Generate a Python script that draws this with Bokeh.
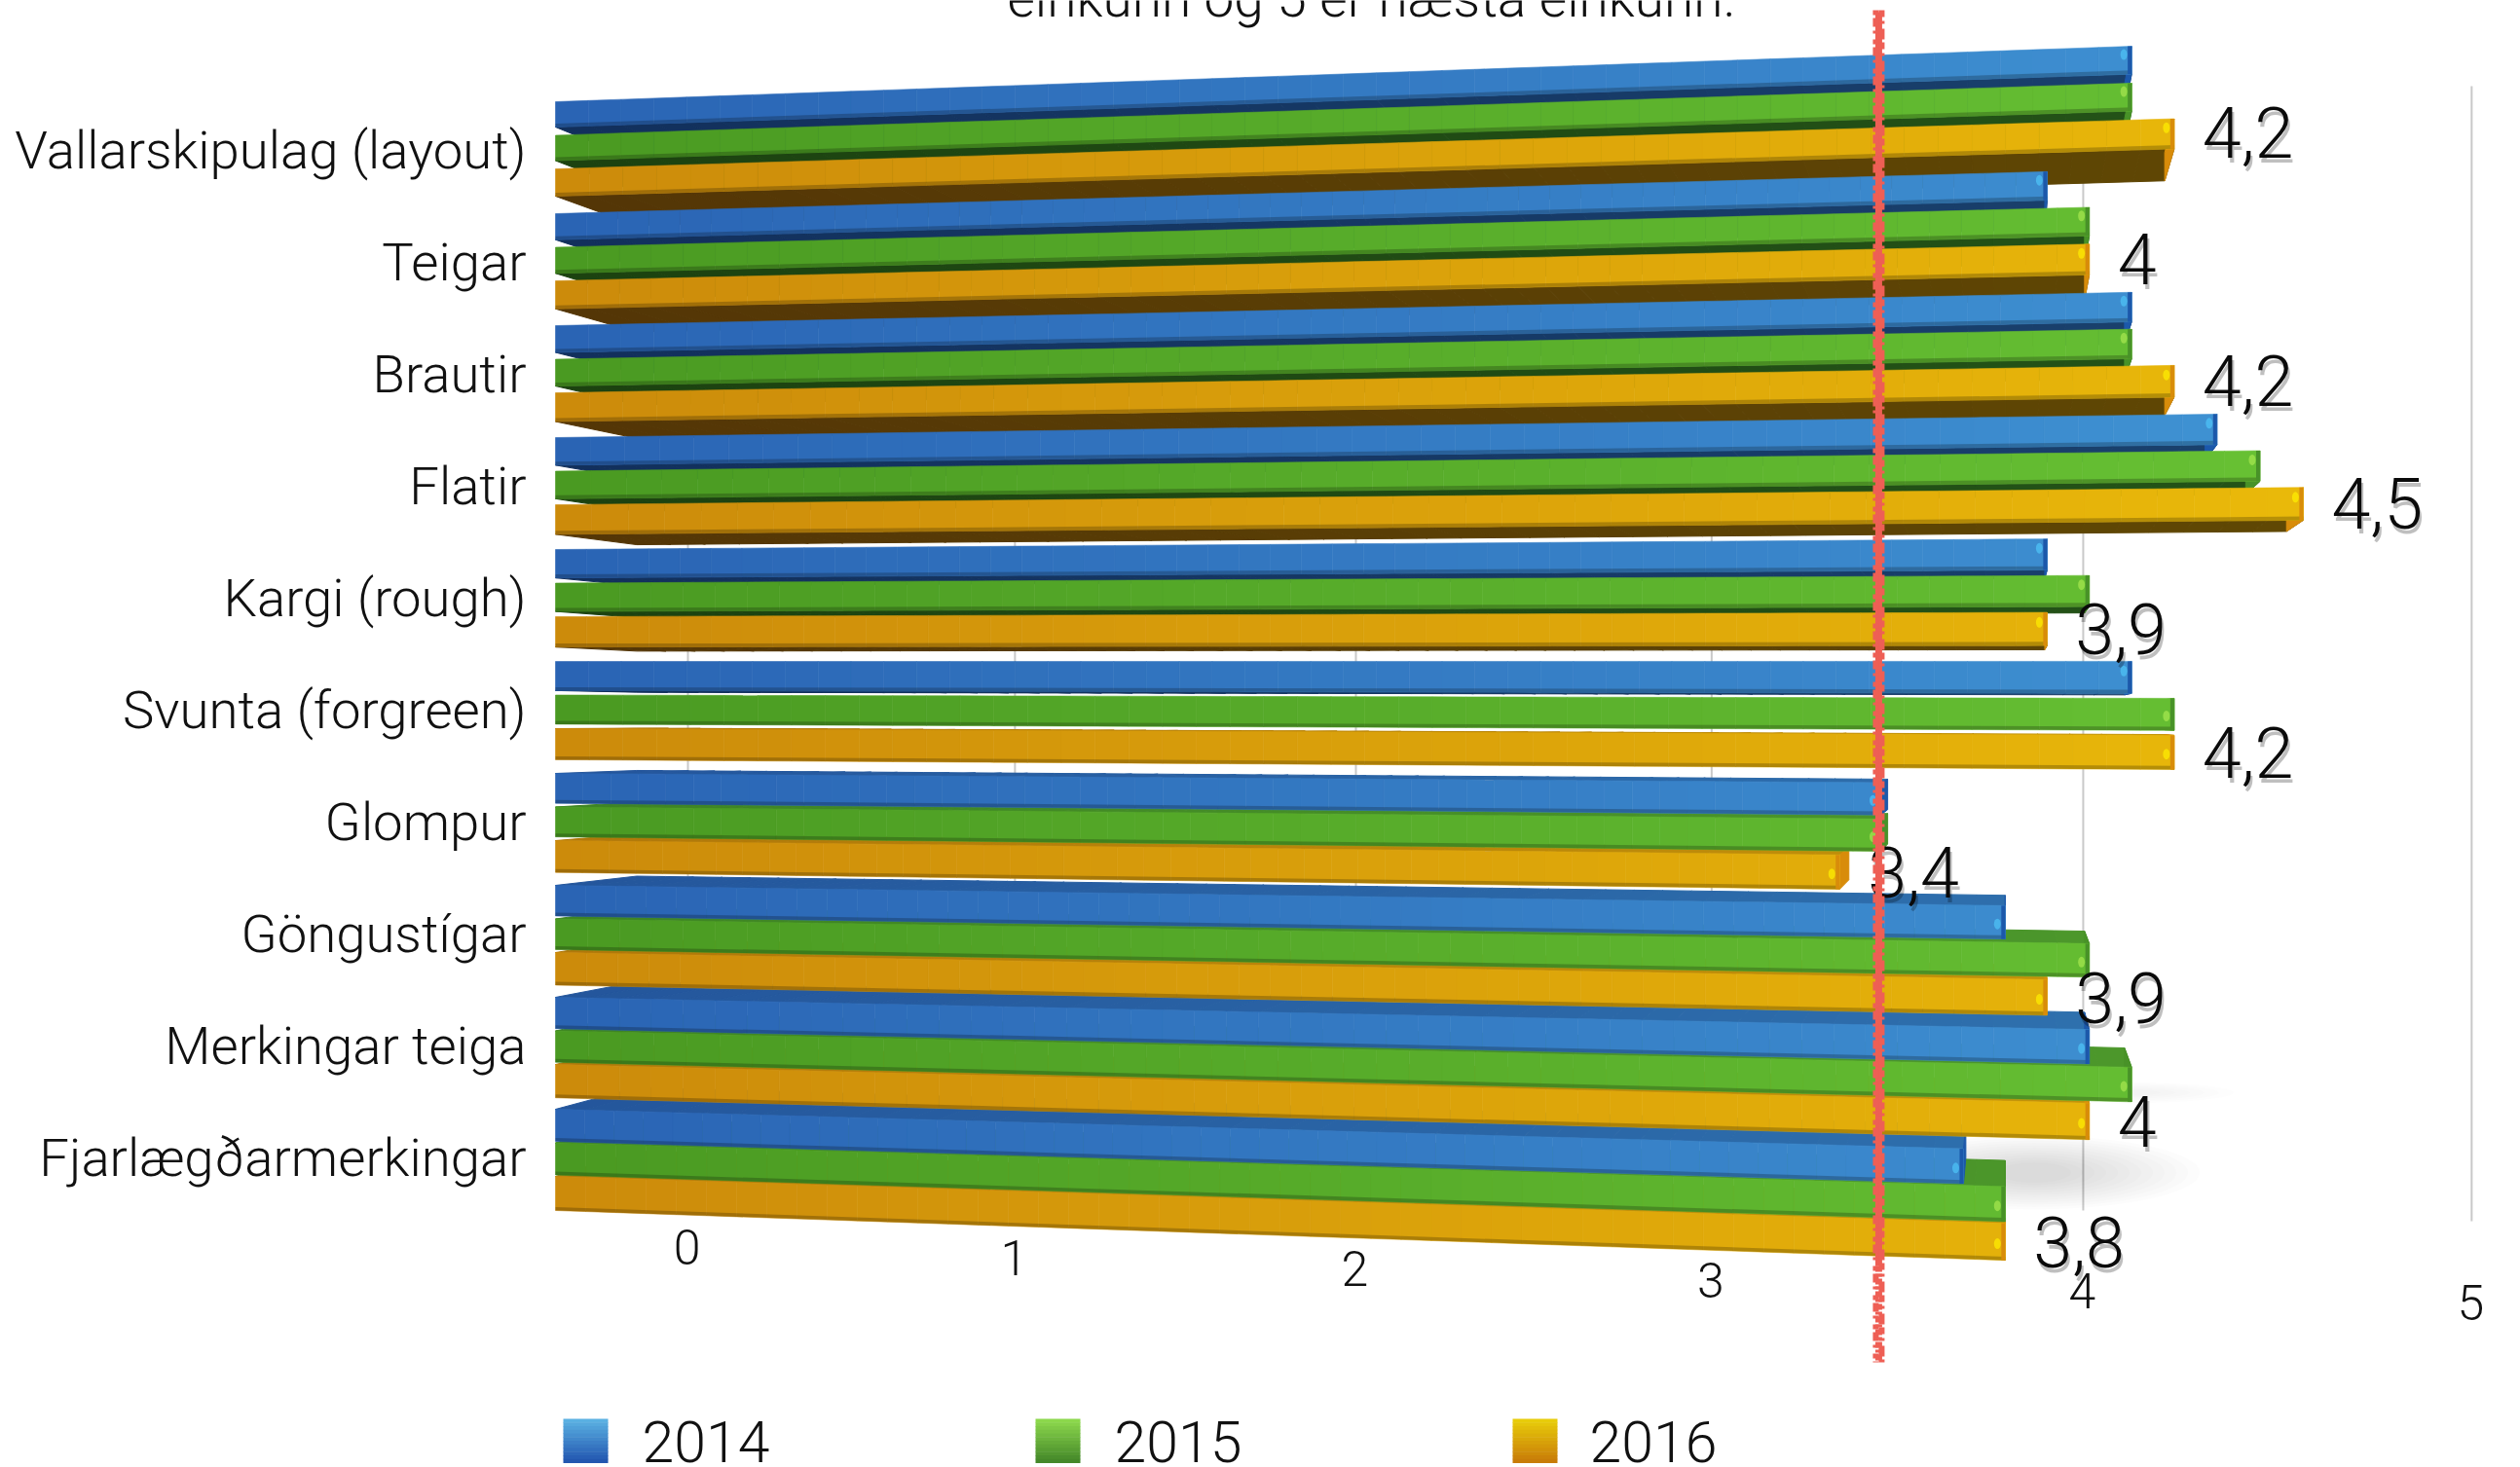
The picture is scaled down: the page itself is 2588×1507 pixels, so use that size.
from bokeh.plotting import figure
from bokeh.embed import file_html
from bokeh.resources import INLINE
from bokeh.models import Range1d
from bokeh.core.properties import value

categories = ["Vallarskipulag (layout)", "Teigar", "Brautir", "Flatir", "Kargi (rough)",
              "Svunta (forgreen)", "Glompur", "Göngustígar", "Merkingar teiga", "Fjarlægðarmerkingar"]
years = ["2014", "2015", "2016"]
v2014 = [4.1, 3.9, 4.1, 4.3, 3.9, 4.1, 3.5, 3.8, 4.0, 3.7]
v2015 = [4.1, 4.0, 4.1, 4.4, 4.0, 4.2, 3.5, 4.0, 4.1, 3.8]
v2016 = [4.2, 4.0, 4.2, 4.5, 3.9, 4.2, 3.4, 3.9, 4.0, 3.8]
series = [v2014, v2015, v2016]
ticks = [0, 1, 2, 3, 4, 5]
reference_value = 3.5
title_fragment = "einkunn og 5 er hæsta einkunn."

FONT = value("Roboto Light")

# colours: (face left, face right, side left, side right, cap, spot, legend top, legend bottom)
PAL = [
    dict(fl=(42, 100, 180), fr=(64, 148, 212), sl=(18, 48, 92), sr=(26, 66, 110), tl=(36, 86, 156), tr=(48, 116, 176),
         cap=(28, 88, 170), spot="#4FC4F8", lt=(90, 176, 226), lb=(35, 87, 176)),
    dict(fl=(74, 154, 34), fr=(104, 194, 52), sl=(28, 66, 16), sr=(36, 84, 24), tl=(62, 132, 36), tr=(78, 154, 44),
         cap=(72, 146, 40), spot="#A8E850", lt=(140, 216, 76), lb=(69, 136, 42)),
    dict(fl=(204, 139, 11), fr=(234, 186, 10), sl=(84, 54, 6), sr=(96, 72, 4), tl=(176, 120, 10), tr=(196, 150, 10),
         cap=(216, 140, 10), spot="#FFF000", lt=(232, 204, 10), lb=(200, 124, 8)),
]


def bar_x(v):
    return 570 + 357.4 * v / (1 - 0.0231 * v)


def grid_x(v):
    return 706 + 329 * v / (1 - 0.0204 * v)


def fy(x, y0):
    return 680 + (y0 - 680) * (1 + 6.11e-5 * (x - 570))


VX, VY, K = 2059, 740, 0.944


def back(x, y):
    return VX + (x - VX) * K, VY + (y - VY) * K


def row_top(r, s):
    return 104 + 115 * r + 34.5 * s


def row_h(r, s):
    return 26 + 7 * r / 9 + (2 if s == 2 else 0)


def lerp(a, b, t):
    return tuple(int(round(a[i] + (b[i] - a[i]) * t)) for i in range(3))


def hexc(c):
    return "#%02x%02x%02x" % c


p = figure(width=2588, height=1507, output_backend="svg", toolbar_location=None,
           x_range=Range1d(0, 2588), y_range=Range1d(1507, 0),
           x_axis_location=None, y_axis_location=None, min_border=0, outline_line_color=None,
           styles={"position": "absolute", "left": "0", "top": "0"})
p.grid.visible = False

# grid lines on the back wall
for t in ticks:
    p.line([grid_x(t), grid_x(t)], [88 + 11 * (5 - t), 1254 - 11 * (5 - t)], line_color="#c9c9c9", line_width=2)
p.text(x=[grid_x(t) - 1 for t in ticks], y=[1280 + 11.4 * t for t in ticks], text=[str(t) for t in ticks],
       text_font=FONT, text_font_size=value("50px"), text_align="center", text_baseline="middle", text_color="#111111")

# soft floor shadows
for i in range(12):
    p.ellipse(x=[bar_x(3.8) + 30], y=[1204], width=340 - 24 * i, height=76 - 5 * i,
              fill_color="#000000", fill_alpha=0.012, line_color=None)
for i in range(6):
    p.ellipse(x=[bar_x(4.1) - 10], y=[1122], width=230 - 30 * i, height=22 - 3 * i,
              fill_color="#000000", fill_alpha=0.008, line_color=None)

N = 48
side_xs, side_ys, side_cs = [], [], []
face_xs, face_ys, face_cs = [], [], []
edge_xs, edge_ys, edge_cs = [], [], []
shade_xs, shade_ys = [], []
spot_x, spot_y, spot_c = [], [], []

# outermost bars first so the ones nearer eye level hide their sides
order = sorted(((r, s) for r in range(len(categories)) for s in range(3)),
               key=lambda rs: -abs(row_top(*rs) + 15 - VY))
for r, s in order:
    val = series[s][r]
    pal = PAL[s]
    x0, xe = bar_x(0), bar_x(val)
    y0t = row_top(r, s)
    y0b = y0t + row_h(r, s)
    under = y0b < VY
    edge = y0b if under else y0t
    if (under and y0b < VY) or (not under and y0t > VY):
        bx0, by0 = back(x0, fy(x0, edge))
        bxe, bye = back(xe, fy(xe, edge))
        for i in range(N):
            a, b = i / N, (i + 1) / N
            fxa, fxb = x0 + (xe - x0) * a, x0 + (xe - x0) * b
            bxa, bxb = bx0 + (bxe - bx0) * a, bx0 + (bxe - bx0) * b
            bya, byb = by0 + (bye - by0) * a, by0 + (bye - by0) * b
            side_xs.append([fxa, fxb, bxb, bxa])
            side_ys.append([fy(fxa, edge), fy(fxb, edge), byb, bya])
            c = lerp(pal["sl"], pal["sr"], (a * (xe - x0)) / 1800) if under else lerp(pal["tl"], pal["tr"], (a * (xe - x0)) / 1800)
            side_cs.append(hexc(c))
    # end cap
    xbk, ytb = back(xe, fy(xe, y0t))
    _, ybb = back(xe, fy(xe, y0b))
    side_xs.append([xe, xbk, xbk, xe])
    side_ys.append([fy(xe, y0t), ytb, ybb, fy(xe, y0b)])
    side_cs.append(hexc(pal["cap"]))
    # front face
    for i in range(N):
        a, b = i / N, (i + 1) / N
        fxa, fxb = x0 + (xe - x0) * a, x0 + (xe - x0) * b
        face_xs.append([fxa, fxb, fxb, fxa])
        face_ys.append([fy(fxa, y0t), fy(fxb, y0t), fy(fxb, y0b), fy(fxa, y0b)])
        face_cs.append(hexc(lerp(pal["fl"], pal["fr"], (a * (xe - x0)) / 1800)))
    # lower bevel of the face
    shade_xs.append([x0, xe, xe, x0])
    shade_ys.append([fy(x0, y0b - 3.5), fy(xe, y0b - 3.5), fy(xe, y0b), fy(x0, y0b)])
    # darker right edge and small bright corner
    edge_xs.append([xe - 4, xe, xe, xe - 4])
    edge_ys.append([fy(xe, y0t), fy(xe, y0t), fy(xe, y0b), fy(xe, y0b)])
    edge_cs.append(hexc(pal["cap"]))
    spot_x.append(xe - 8)
    spot_y.append(fy(xe, y0t + (row_h(r, s) * (0.3 if under else 0.55))))
    spot_c.append(pal["spot"])

p.patches(side_xs, side_ys, fill_color=side_cs, line_color=side_cs, line_width=1)
p.patches(face_xs, face_ys, fill_color=face_cs, line_color=face_cs, line_width=0.6)
p.patches(shade_xs, shade_ys, fill_color="#000000", fill_alpha=0.22, line_color=None)
p.patches(edge_xs, edge_ys, fill_color=edge_cs, line_color=None)
p.ellipse(x=spot_x, y=spot_y, width=7, height=11, fill_color=spot_c, line_color=None, fill_alpha=0.7)

# category labels
p.text(x=[540] * len(categories), y=[row_top(r, 1) + 15 for r in range(len(categories))], text=categories,
       text_font=FONT, text_font_size=value("54.5px"), text_align="right", text_baseline="middle", text_color="#111111")

# value labels of the latest year
lab = [f"{v:g}".replace(".", ",") for v in v2016]
lx = [bar_x(v) + 29 for v in v2016]
ly = [fy(bar_x(v), row_top(r, 2) + 13 + 0.55 * r) for r, v in enumerate(v2016)]
p.text(x=[a + 2 for a in lx], y=[b + 5 for b in ly], text=lab, text_font=FONT, text_font_size=value("72px"),
       text_align="left", text_baseline="middle", text_color="#000000", text_alpha=0.25)
p.text(x=lx, y=ly, text=lab, text_font=FONT, text_font_size=value("72px"),
       text_align="left", text_baseline="middle", text_color="#0a0a0a")

# hand-drawn reference line
rx = bar_x(reference_value) - 2
p.line([rx, rx], [12, 1300], line_color="#ee5f55", line_width=7)
p.line([rx - 3, rx - 3], [10, 1399], line_color="#ee5f55", line_width=6, line_dash="5 3 9 4 3 6")
p.line([rx + 3, rx + 3], [10, 1399], line_color="#ee5f55", line_width=6, line_dash="7 4 3 5 11 3")
p.line([rx, rx], [1300, 1399], line_color="#ee5f55", line_width=7, line_dash="6 2 3 2")

# legend
lx_sw = [578, 1063, 1553]
lx_tx = [659, 1144, 1632]
for i, y_ in enumerate(years):
    for j in range(12):
        t0 = 1457 + 45 * j / 12
        p.quad(left=[lx_sw[i]], right=[lx_sw[i] + 46], top=[t0], bottom=[t0 + 45 / 12 + 0.5],
               fill_color=hexc(lerp(PAL[i]["lt"], PAL[i]["lb"], j / 11)), line_color=None)
p.text(x=lx_tx, y=[1480] * 3, text=years, text_font=FONT, text_font_size=value("59px"),
       text_align="left", text_baseline="middle", text_color="#111111")

# clipped end of the slide's title
p.text(x=[1408], y=[-3], text=[title_fragment], text_font=FONT, text_font_size=value("55px"),
       text_align="center", text_baseline="middle", text_color="#111111")

open("out.html", "w").write(file_html(p, INLINE))
